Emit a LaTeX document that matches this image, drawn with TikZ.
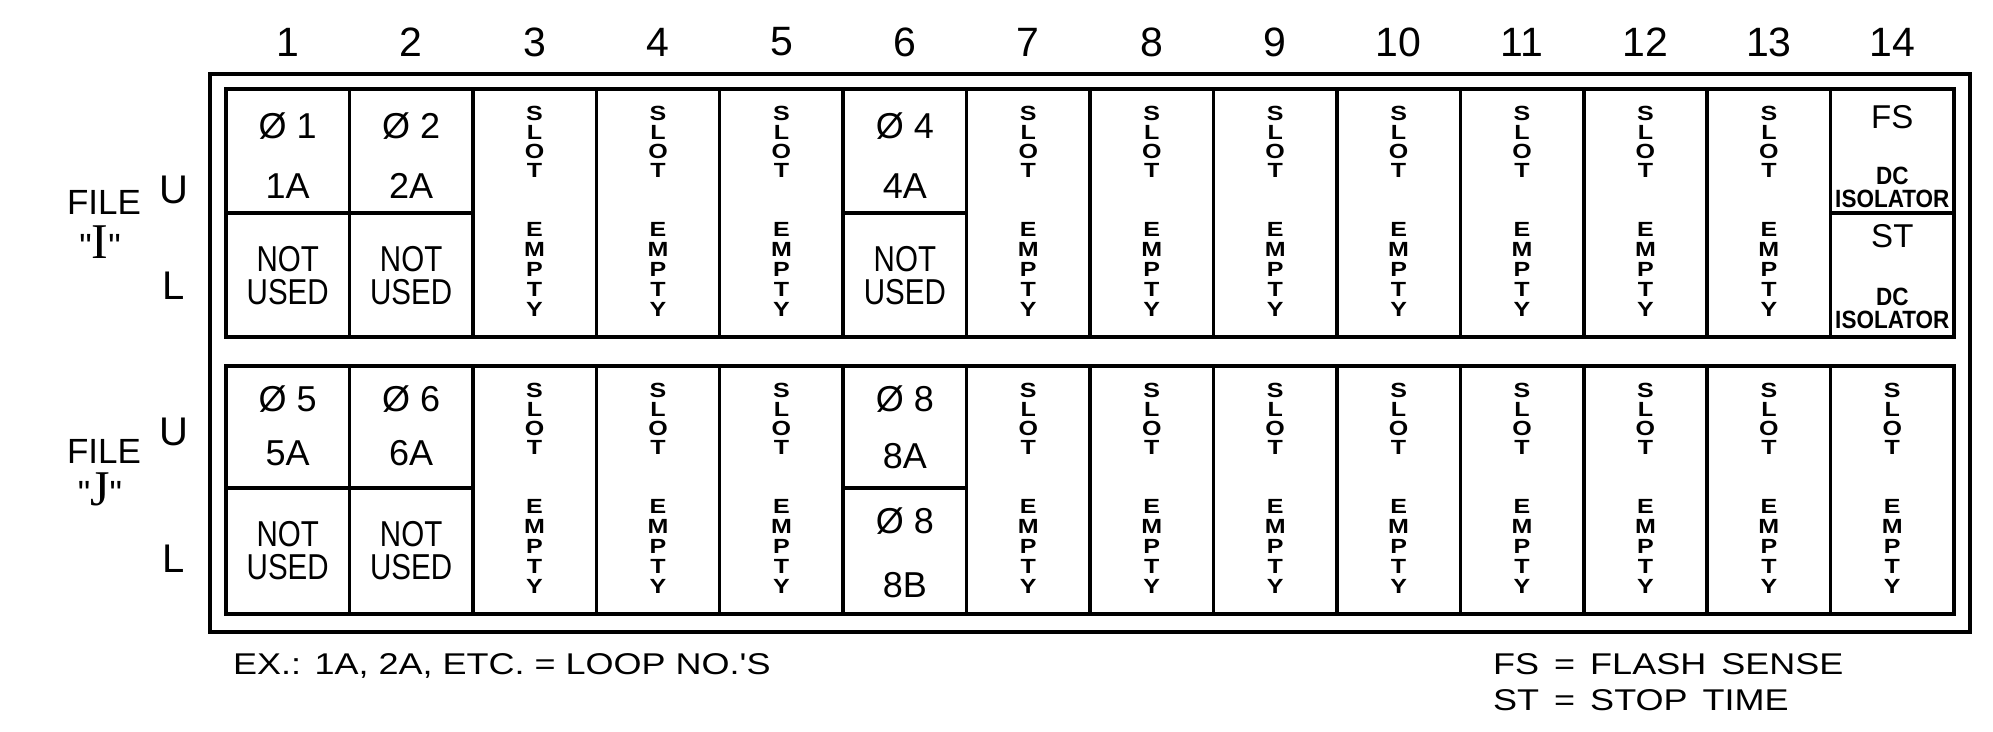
\documentclass[tikz,border=0pt]{standalone}
\usepackage{fontspec}
\newfontfamily\pf{Liberation Sans}
\newfontfamily\pfn[FakeStretch=0.82]{Liberation Sans}
\newfontfamily\pfb[FakeStretch=0.9]{Liberation Sans}
\newfontfamily\pfl[FakeStretch=1.22]{Liberation Sans}
\newfontfamily\pfw[FakeStretch=1.2]{Liberation Sans}
\newfontfamily\pfv[FakeStretch=1.2]{Liberation Sans}
\newfontfamily\pfs{Liberation Serif}
\newcommand\widesp[1]{{\spaceskip=15pt\relax #1}}
\begin{document}
\begin{tikzpicture}[x=1pt,y=-1pt,
  frame/.style={line width=3.5pt},
  boxl/.style={line width=4.5pt},
  divl/.style={line width=3.5pt},
  tx/.style={inner sep=0pt, anchor=center},
  colnum/.style={tx, font=\pf\fontsize{41}{41}\selectfont},
  loop/.style={tx, font=\pf\fontsize{36}{36}\selectfont},
  nu/.style={tx, align=center, font=\pfn\fontsize{36}{33.5}\selectfont},
  slotw/.style={tx, align=center, font=\pfl\bfseries\fontsize{20.5}{19}\selectfont},
  emptw/.style={tx, align=center, font=\pfl\bfseries\fontsize{20.5}{20}\selectfont},
  fsst/.style={tx, font=\pf\fontsize{33}{33}\selectfont},
  iso/.style={tx, align=center, font=\pfb\bfseries\fontsize{25}{23}\selectfont},
  side/.style={tx, font=\pf\fontsize{35}{35}\selectfont},
  ul/.style={tx, font=\pf\fontsize{40}{40}\selectfont},
  note/.style={inner sep=0pt, anchor=base west, font=\pfw\fontsize{30}{30}\selectfont},
  notev/.style={inner sep=0pt, anchor=base west, font=\pfv\fontsize{30}{30}\selectfont},
]
\useasboundingbox (0,0) rectangle (1993,731);
\def\cw{123.43}
% column numbers
\foreach \c in {1,...,14} {
  \pgfmathsetmacro\xc{226+\cw*(\c-0.5)}
  \node[colnum] (col\c) at (\xc,42) {\c};
}
% frames
\draw[frame] (210,74) rectangle (1970,632);
\draw[boxl] (226,89) rectangle (1954,337);
\draw[boxl] (226,366) rectangle (1954,614);
\foreach \c in {1,...,13} {
  \pgfmathsetmacro\xd{226+\cw*\c}
  \draw[divl] (\xd,89) -- (\xd,337);
  \draw[divl] (\xd,366) -- (\xd,614);
}
% split lines
\foreach \c in {1,2,6,14} {
  \pgfmathsetmacro\xa{226+\cw*(\c-1)}
  \pgfmathsetmacro\xb{226+\cw*\c}
  \draw[divl] (\xa,213) -- (\xb,213);
}
\foreach \c in {1,2,6} {
  \pgfmathsetmacro\xa{226+\cw*(\c-1)}
  \pgfmathsetmacro\xb{226+\cw*\c}
  \draw[divl] (\xa,488) -- (\xb,488);
}
% slot empty columns
\foreach \c in {3,4,5,7,8,9,10,11,12,13} {
  \pgfmathsetmacro\xc{226+\cw*(\c-0.5)}
  \node[slotw] (slotI\c) at (\xc,141.5) {S\\L\\O\\T};
  \node[emptw] (emptyI\c) at (\xc,269) {E\\M\\P\\T\\Y};
}
\foreach \c in {3,4,5,7,8,9,10,11,12,13,14} {
  \pgfmathsetmacro\xc{226+\cw*(\c-0.5)}
  \node[slotw] (slotJ\c) at (\xc,418.5) {S\\L\\O\\T};
  \node[emptw] (emptyJ\c) at (\xc,546) {E\\M\\P\\T\\Y};
}
% file I cells
\foreach \c/\p in {1/1,2/2,6/4} {
  \pgfmathsetmacro\xc{226+\cw*(\c-0.5)}
  \node[loop] (ph\c) at (\xc,126) {Ø \p};
  \node[loop] (lp\c) at (\xc,186) {\p A};
  \node[nu] (nu\c) at (\xc,275.5) {NOT\\USED};
}
% file J cells
\foreach \c/\p in {1/5,2/6} {
  \pgfmathsetmacro\xc{226+\cw*(\c-0.5)}
  \node[loop] (jph\c) at (\xc,399) {Ø \p};
  \node[loop] (jlp\c) at (\xc,453) {\p A};
  \node[nu] (jnu\c) at (\xc,550.5) {NOT\\USED};
}
\pgfmathsetmacro\xsix{226+\cw*5.5}
\node[loop] (jph6) at (\xsix,399) {Ø 8};
\node[loop] (jlp6a) at (\xsix,456) {8A};
\node[loop] (jph6b) at (\xsix,521) {Ø 8};
\node[loop] (jlp6b) at (\xsix,585) {8B};
% column 14 top
\pgfmathsetmacro\xft{226+\cw*13.5}
\node[fsst] (fs) at (\xft,117) {FS};
\node[iso] (iso1) at (\xft,187.5) {DC\\ISOLATOR};
\node[fsst] (st) at (\xft,236) {ST};
\node[iso] (iso2) at (\xft,308) {DC\\ISOLATOR};
% side labels
\node[side] (fileI) at (104,202) {FILE};
\node[side] (qI) at (100,242) {"{\pfs\fontsize{50}{50}\selectfont I}"};
\node[ul] (uI) at (174,190) {U};
\node[ul] (lI) at (174,286) {L};
\node[side] (fileJ) at (104,451) {FILE};
\node[side] (qJ) at (100,489) {"{\pfs\fontsize{50}{50}\selectfont J}"};
\node[ul] (uJ) at (174,432) {U};
\node[ul] (lJ) at (174,559) {L};
% notes
\node[note] (ex) at (233,674) {EX.: 1A, 2A, ETC. = LOOP NO.'S};
\node[notev] (fsn) at (1493,674) {\widesp{FS = FLASH SENSE}};
\node[notev] (stn) at (1493,710) {\widesp{ST = STOP TIME}};
\end{tikzpicture}
\end{document}
